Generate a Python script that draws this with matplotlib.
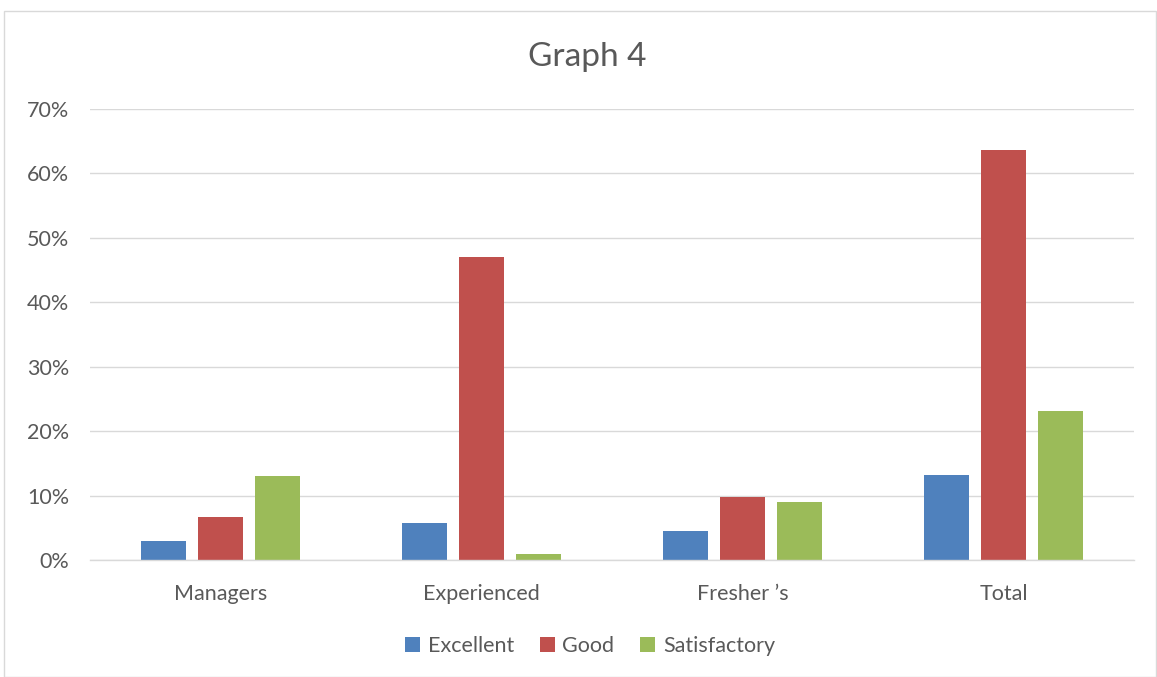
import numpy as np
import matplotlib.pyplot as plt
from matplotlib.patches import Rectangle

plt.rcParams['font.family'] = ['Lato', 'DejaVu Sans']

categories = ['Managers', 'Experienced', 'Fresher \u2019s', 'Total']
series = ['Excellent', 'Good', 'Satisfactory']
excellent = [2.9, 5.7, 4.5, 13.2]
good = [6.6, 47.1, 9.8, 63.7]
satisfactory = [13.0, 0.9, 9.0, 23.1]
colors = ['#4f81bd', '#c0504d', '#9bbb59']

W, H = 1157, 677
fig = plt.figure(figsize=(W / 100, H / 100), dpi=100)
ax = fig.add_axes([90 / W, 1 - 560 / H, (1134 - 90) / W, (560 - 109) / H])

# chart frame
fig.patches.append(Rectangle((4 / W, 0.5 / H), (W - 5) / W, (H - 11.5) / H,
                             transform=fig.transFigure, fill=False,
                             edgecolor='#d9d9d9', linewidth=1.0))

x = np.arange(len(categories))
bw = 45 / 261.25
step = 57 / 261.25
for i, (vals, name) in enumerate(zip([excellent, good, satisfactory], series)):
    ax.bar(x + (i - 1) * step, vals, width=bw, color=colors[i], label=name,
           zorder=3)

ax.set_xlim(-0.5, len(categories) - 0.5)
ax.set_ylim(0, 70)
ax.set_yticks(range(0, 71, 10))
ax.set_yticklabels([f'{v}%' for v in range(0, 71, 10)])
ax.set_xticks(x)
ax.set_xticklabels(categories)
ax.grid(axis='y', color='#d9d9d9', linewidth=1.0, zorder=0)
for s in ['top', 'right', 'left']:
    ax.spines[s].set_visible(False)
ax.spines['bottom'].set_color('#d9d9d9')
ax.spines['bottom'].set_linewidth(1.0)
ax.spines['bottom'].set_zorder(4)
ax.tick_params(length=0, labelsize=15.5, labelcolor='#595959')
ax.tick_params(axis='x', pad=17)
ax.tick_params(axis='y', pad=15)

fig.text(587 / W, 1 - 57 / H, 'Graph 4', ha='center', va='center',
         fontsize=24, color='#595959')

handles, labels = ax.get_legend_handles_labels()
fig.legend(handles, labels, loc='center', bbox_to_anchor=(590 / W, 1 - 646 / H),
           ncol=3, frameon=False, fontsize=15.5, labelcolor='#595959',
           handlelength=0.7, handleheight=0.7, handletextpad=0.35,
           columnspacing=1.2)

fig.savefig('out.png', dpi=100)
